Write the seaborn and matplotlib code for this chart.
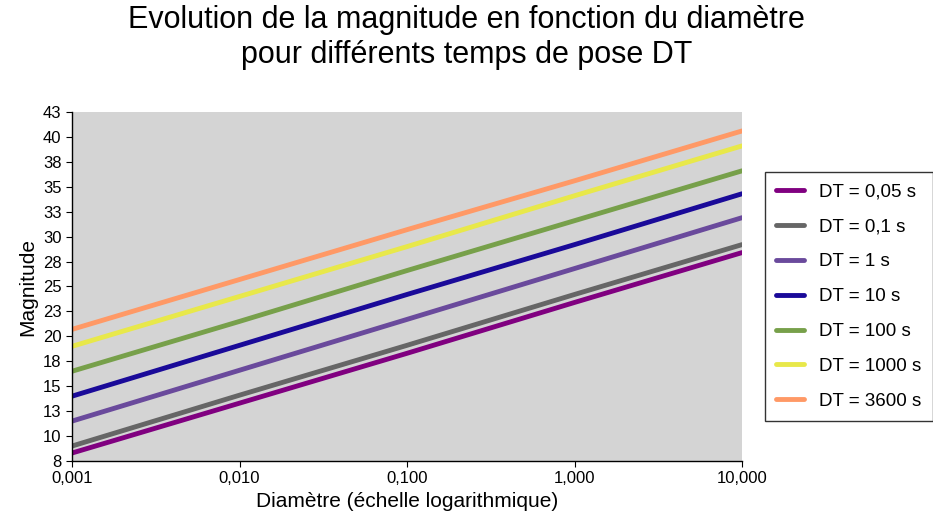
import matplotlib
matplotlib.use("Agg")
import matplotlib.pyplot as plt
import seaborn as sns
import pandas as pd
from matplotlib.ticker import FixedLocator, FixedFormatter, NullLocator

diam = [0.001, 0.01, 0.1, 1, 10]
labels = ["DT = 0,05 s", "DT = 0,1 s", "DT = 1 s", "DT = 10 s", "DT = 100 s", "DT = 1000 s", "DT = 3600 s"]
m005 = [8.3, 13.3, 18.3, 23.4, 28.4]
m01 = [9.0, 14.1, 19.1, 24.2, 29.2]
m1 = [11.5, 16.6, 21.7, 26.8, 31.9]
m10 = [14.0, 19.1, 24.2, 29.2, 34.3]
m100 = [16.5, 21.5, 26.6, 31.6, 36.6]
m1000 = [19.0, 24.0, 29.0, 34.1, 39.1]
m3600 = [20.7, 25.7, 30.7, 35.6, 40.6]
colors = ["#800080", "#666666", "#6A4A9C", "#1A0A99", "#77A04A", "#E8E84A", "#FF9966"]
yticks = [7.5 + 2.5 * i for i in range(15)]
ytick_labels = ["8", "10", "13", "15", "18", "20", "23", "25", "28", "30", "33", "35", "38", "40", "43"]
xtick_labels = ["0,001", "0,010", "0,100", "1,000", "10,000"]

rows = []
for lab, vals in zip(labels, [m005, m01, m1, m10, m100, m1000, m3600]):
    for d, v in zip(diam, vals):
        rows.append({"D": d, "M": v, "S": lab})
df = pd.DataFrame(rows)

sns.set_style("white")
plt.rcParams["font.family"] = ["Liberation Sans", "DejaVu Sans"]
plt.rcParams["text.color"] = "black"
plt.rcParams["axes.labelcolor"] = "black"
plt.rcParams["xtick.color"] = "black"
plt.rcParams["ytick.color"] = "black"
fig = plt.figure(figsize=(9.33, 5.29), dpi=100)
ax = fig.add_axes([72/933, 1-461/529, 670/933, 349/529])
ax.set_facecolor("#D4D4D4")
sns.lineplot(data=df, x="D", y="M", hue="S", palette=colors, linewidth=3.5, ax=ax, legend=True)
ax.set_xscale("log")
ax.set_xlim(0.001, 10)
ax.set_ylim(7.5, 42.5)
ax.xaxis.set_major_locator(FixedLocator(diam))
ax.xaxis.set_major_formatter(FixedFormatter(xtick_labels))
ax.xaxis.set_minor_locator(NullLocator())
ax.set_yticks(yticks)
ax.set_yticklabels(ytick_labels)
ax.tick_params(labelsize=12, length=4, direction="out", left=True, bottom=True, color="black")
for s in ax.spines.values():
    s.set_color("black"); s.set_linewidth(1)
ax.spines["top"].set_visible(False); ax.spines["right"].set_visible(False)
ax.set_xlabel("Diamètre (échelle logarithmique)", fontsize=15)
ax.set_ylabel("Magnitude", fontsize=15)
fig.suptitle("Evolution de la magnitude en fonction du diamètre\npour différents temps de pose DT", fontsize=22, y=0.99, color="black")
leg = ax.legend(loc="upper left", bbox_to_anchor=(1.02, 0.855), fontsize=13.5, frameon=True,
                fancybox=False, edgecolor="black", handlelength=1.5, labelspacing=0.95, borderpad=0.6, title=None)
leg.get_frame().set_linewidth(1)
fig.savefig("out.png", dpi=100)
